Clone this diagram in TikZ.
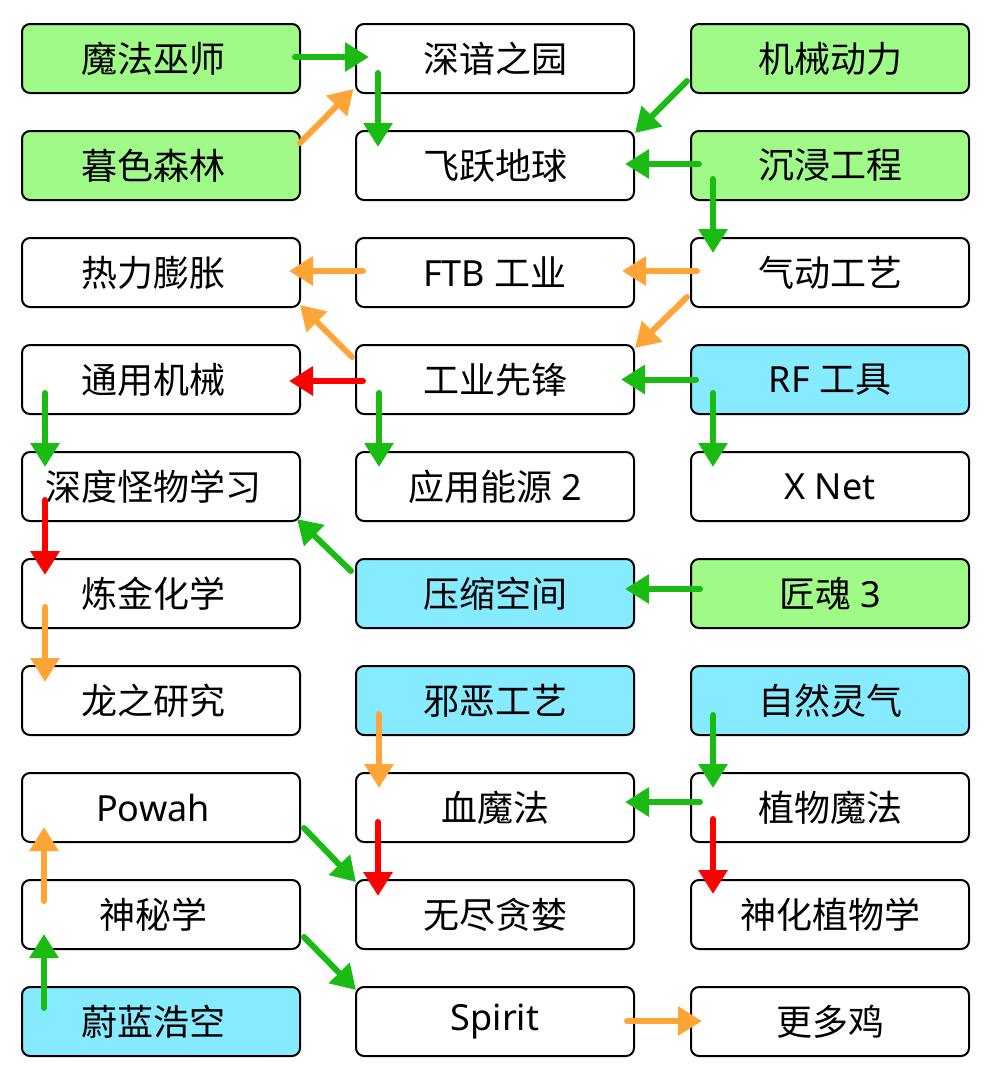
\documentclass[tikz,border=0pt]{standalone}
\usepackage{fontspec}
\setmainfont{Noto Sans CJK SC}
\newfontfamily\lat{Noto Sans}
\usetikzlibrary{arrows.meta,calc}
\definecolor{gfill}{RGB}{160,250,136}
\definecolor{cfill}{RGB}{135,235,255}
\definecolor{agreen}{RGB}{26,188,20}
\definecolor{aorange}{RGB}{255,165,55}
\definecolor{ared}{RGB}{255,0,0}
\tikzset{
  box/.style={draw=black, line width=2pt, rounded corners=8pt, minimum width=278pt, minimum height=69pt, inner sep=0pt, font=\fontsize{36}{42}\selectfont},
  gbox/.style={box, fill=gfill},
  cbox/.style={box, fill=cfill},
  lshift/.style={execute at begin node={\hspace*{-16pt}}},
  arr/.style={line width=6pt, line cap=round, -{Triangle[length=24pt,width=28pt]}},
  ga/.style={arr, draw=agreen},
  oa/.style={arr, draw=aorange},
  ra/.style={arr, draw=ared}
}
\begin{document}
\begin{tikzpicture}[x=1pt,y=-1pt]
\useasboundingbox (0,0) rectangle (990,1080);
\fill[white] (0,0) rectangle (990,1080);
% column 1
\node[gbox,lshift] (a1) at (161,58.5) {魔法巫师};
\node[gbox,lshift] (a2) at (161,165.5) {暮色森林};
\node[box,lshift] (a3) at (161,272.5) {热力膨胀};
\node[box,lshift] (a4) at (161,379.5) {通用机械};
\node[box,lshift] (a5) at (161,486.5) {深度怪物学习};
\node[box,lshift] (a6) at (161,593.5) {炼金化学};
\node[box,lshift] (a7) at (161,700.5) {龙之研究};
\node[box,lshift] (a8) at (161,807.5) {\lat Powah};
\node[box,lshift] (a9) at (161,914.5) {神秘学};
\node[cbox,lshift] (a10) at (161,1021.5) {蔚蓝浩空};
% column 2
\node[box] (b1) at (495,58.5) {深谙之园};
\node[box] (b2) at (495,165.5) {飞跃地球};
\node[box] (b3) at (495,272.5) {{\lat FTB }工业};
\node[box] (b4) at (495,379.5) {工业先锋};
\node[box] (b5) at (495,486.5) {应用能源{\lat\ 2}};
\node[cbox] (b6) at (495,593.5) {压缩空间};
\node[cbox] (b7) at (495,700.5) {邪恶工艺};
\node[box] (b8) at (495,807.5) {血魔法};
\node[box] (b9) at (495,914.5) {无尽贪婪};
\node[box] (b10) at (495,1021.5) {\lat Spirit};
% column 3
\node[gbox] (c1) at (830,58.5) {机械动力};
\node[gbox] (c2) at (830,165.5) {沉浸工程};
\node[box] (c3) at (830,272.5) {气动工艺};
\node[cbox] (c4) at (830,379.5) {{\lat RF }工具};
\node[box] (c5) at (830,486.5) {\lat X Net};
\node[gbox] (c6) at (830,593.5) {匠魂{\lat\ 3}};
\node[cbox] (c7) at (830,700.5) {自然灵气};
\node[box] (c8) at (830,807.5) {植物魔法};
\node[box] (c9) at (830,914.5) {神化植物学};
\node[box] (c10) at (830,1021.5) {更多鸡};
% horizontal arrows
\draw[ga] ($(a1.east)+(-6,-1.5)$) -- ($(b1.west)+(14,-1.5)$);
\draw[ga] ($(c2.west)+(9,-1.5)$) -- ($(b2.east)+(-10,-1.5)$);
\draw[oa] ($(c3.west)+(7,-1.5)$) -- ($(b3.east)+(-13,-1.5)$);
\draw[oa] ($(b3.west)+(8,-1.5)$) -- ($(a3.east)+(-12,-1.5)$);
\draw[ra] ($(b4.west)+(8,1.5)$) -- ($(a4.east)+(-12,1.5)$);
\draw[ga] ($(c4.west)+(6,0)$) -- ($(b4.east)+(-14,0)$);
\draw[ga] ($(c6.west)+(10,-4.5)$) -- ($(b6.east)+(-10,-4.5)$);
\draw[ga] ($(c8.west)+(10,-5.5)$) -- ($(b8.east)+(-10,-5.5)$);
\draw[oa] ($(b10.east)+(-8,-0.5)$) -- ($(c10.west)+(12,-0.5)$);
% vertical down arrows
\draw[ga] ($(b1.south west)+(23,-21)$) -- ($(b2.north west)+(23,17)$);
\draw[ga] ($(c2.south west)+(23,-22)$) -- ($(c3.north west)+(23,16)$);
\draw[ga] ($(a4.south west)+(24,-22)$) -- ($(a5.north west)+(24,16)$);
\draw[ga] ($(b4.south west)+(24,-22)$) -- ($(b5.north west)+(24,16)$);
\draw[ga] ($(c4.south west)+(23,-22)$) -- ($(c5.north west)+(23,16)$);
\draw[ra] ($(a5.south west)+(24,-22)$) -- ($(a6.north west)+(24,17)$);
\draw[oa] ($(a6.south west)+(24,-22)$) -- ($(a7.north west)+(24,17)$);
\draw[oa] ($(b7.south west)+(24,-22)$) -- ($(b8.north west)+(24,16)$);
\draw[ga] ($(c7.south west)+(23,-21)$) -- ($(c8.north west)+(23,16)$);
\draw[ra] ($(b8.south west)+(23,-21)$) -- ($(b9.north west)+(23,17)$);
\draw[ra] ($(c8.south west)+(23,-24)$) -- ($(c9.north west)+(23,15)$);
% vertical up arrows
\draw[ga] ($(a10.north west)+(23,22)$) -- ($(a9.south west)+(23,-16)$);
\draw[oa] ($(a9.north west)+(23,22)$) -- ($(a8.south west)+(23,-16)$);
% diagonal arrows
\draw[oa] ($(a2.north east)+(-1,13)$) -- ($(b1.south west)+(-1.5,-5)$);
\draw[ga] ($(c1.south west)+(-3,-13)$) -- ($(b2.north east)+(0,3)$);
\draw[oa] ($(c3.south west)+(-3,-11)$) -- ($(b4.north east)+(0,4)$);
\draw[oa] ($(b4.north west)+(-3,13)$) -- ($(a3.south east)+(-1,-3)$);
\draw[ga] ($(b6.north west)+(-4,13)$) -- ($(a5.south east)+(-4,-3)$);
\draw[ga] ($(a8.south east)+(3,-15)$) -- ($(b9.north west)+(1,3)$);
\draw[ga] ($(a9.south east)+(3,-13)$) -- ($(b10.north west)+(1,4)$);
\end{tikzpicture}
\end{document}
